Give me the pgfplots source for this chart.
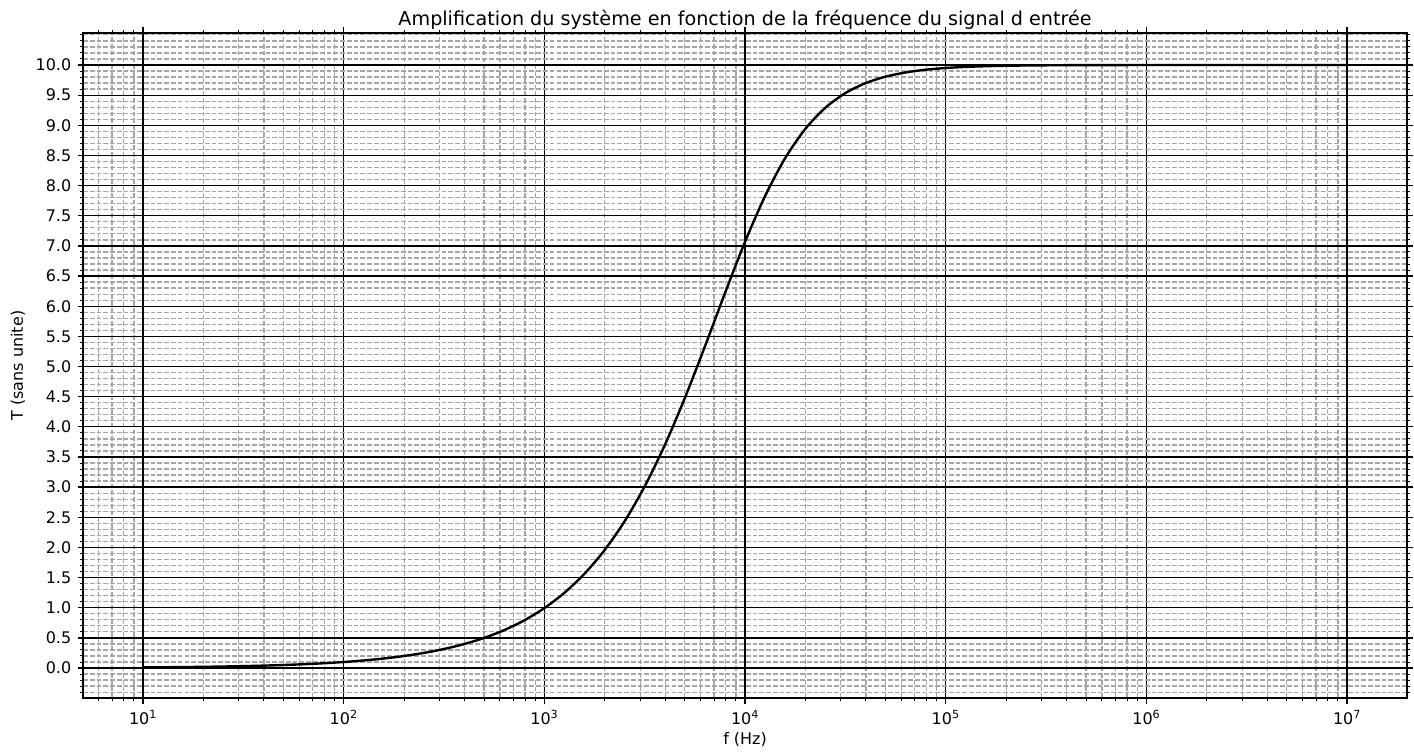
\documentclass[border=0pt]{standalone}
\usepackage{fontspec}
\setmainfont{DejaVu Sans}
\usepackage{pgfplots}
\pgfplotsset{compat=1.18}
\begin{document}
\begin{tikzpicture}
\path[use as bounding box] (-59.8pt,-39.6pt) rectangle (958.3pt,502.6pt);
\begin{axis}[
  scale only axis,
  width=953.3pt, height=478.8pt,
  xmode=log,
  xmin=5.02, xmax=1.99e7,
  ymin=-0.4975, ymax=10.53,
  xtick={1e1,1e2,1e3,1e4,1e5,1e6,1e7},
  xticklabels={10\textsuperscript{1},10\textsuperscript{2},10\textsuperscript{3},10\textsuperscript{4},10\textsuperscript{5},10\textsuperscript{6},10\textsuperscript{7}},
  minor xtick={6,7,8,9,20,30,40,50,60,70,80,90,200,300,400,500,600,700,800,900,2e3,3e3,4e3,5e3,6e3,7e3,8e3,9e3,2e4,3e4,4e4,5e4,6e4,7e4,8e4,9e4,2e5,3e5,4e5,5e5,6e5,7e5,8e5,9e5,2e6,3e6,4e6,5e6,6e6,7e6,8e6,9e6},
  ytick={0,0.5,1,1.5,2,2.5,3,3.5,4,4.5,5,5.5,6,6.5,7,7.5,8,8.5,9,9.5,10},
  minor ytick={-0.4,-0.3,-0.2,-0.1,0.1,0.2,0.3,0.4,0.6,0.7,0.8,0.9,1.1,1.2,1.3,1.4,1.6,1.7,1.8,1.9,2.1,2.2,2.3,2.4,2.6,2.7,2.8,2.9,3.1,3.2,3.3,3.4,3.6,3.7,3.8,3.9,4.1,4.2,4.3,4.4,4.6,4.7,4.8,4.9,5.1,5.2,5.3,5.4,5.6,5.7,5.8,5.9,6.1,6.2,6.3,6.4,6.6,6.7,6.8,6.9,7.1,7.2,7.3,7.4,7.6,7.7,7.8,7.9,8.1,8.2,8.3,8.4,8.6,8.7,8.8,8.9,9.1,9.2,9.3,9.4,9.6,9.7,9.8,9.9,10.1,10.2,10.3,10.4,10.5},
  /pgf/number format/.cd, fixed, fixed zerofill, precision=1, assume math mode=true,
  /pgfplots/.cd,
  tick align=outside,
  major tick length=4pt,
  minor tick length=2.3pt,
  tick style={black, line width=0.9pt},
  minor tick style={black, line width=0.7pt},
  axis line style={black, line width=0.9pt},
  grid=both,
  major grid style={black, line width=0.9pt},
  minor grid style={gray!70, line width=0.9pt, dash pattern=on 3.4pt off 1.47pt},
  tick label style={font=\fontsize{11.5}{13.8}\selectfont},
  xticklabel style={yshift=-1pt},
  yticklabel style={xshift=-1pt},
  label style={font=\fontsize{11.5}{13.8}\selectfont},
  xlabel={f (Hz)},
  xlabel style={at={(axis description cs:0.5,-0.0706)}, anchor=base, inner sep=0pt},
  ylabel={T (sans unite)},
  ylabel style={at={(axis description cs:-0.0455,0.5)}, anchor=base, inner sep=0pt},
  title={Amplification du système en fonction de la fréquence du signal d entrée},
  title style={font=\fontsize{13.8}{16.5}\selectfont, at={(axis description cs:0.5,1)}, anchor=base, inner sep=0pt, yshift=-0.4pt},
  clip=false,
]
\addplot[black, line width=1.73pt, smooth] coordinates {
(10,0.01) (12.589,0.012589) (15.849,0.015849) (19.953,0.019953) (25.119,0.025119)
(31.623,0.031623) (39.811,0.039811) (50.119,0.050118) (63.096,0.063095) (79.433,0.07943)
(100,0.099995) (125.89,0.12588) (158.49,0.15847) (199.53,0.19949) (251.19,0.25111)
(316.23,0.31607) (398.11,0.3978) (501.19,0.50056) (630.96,0.62971) (794.33,0.79184)
(1000,0.99504) (1258.9,1.24907) (1584.9,1.56535) (1995.3,1.95669) (2511.9,2.43621)
(3162.3,3.01511) (3981.1,3.69874) (5011.9,4.48062) (6309.6,5.33615) (7943.3,6.21983)
(10000,7.07107) (12589,7.8303) (15849,8.45726) (19953,8.93999) (25119,9.29084)
(31623,9.53463) (39811,9.69871) (50119,9.8067) (63096,9.87672) (79433,9.92169)
(1e5,9.95037) (1.2589e5,9.9686) (1.5849e5,9.98015) (1.9953e5,9.98747) (2.5119e5,9.99209)
(3.1623e5,9.995) (3.9811e5,9.99685) (5.0119e5,9.99801) (6.3096e5,9.99874) (7.9433e5,9.99921)
(1e6,9.9995) (2e6,9.99988) (4e6,9.99997) (1e7,10.0)
};
\end{axis}
\end{tikzpicture}
\end{document}
